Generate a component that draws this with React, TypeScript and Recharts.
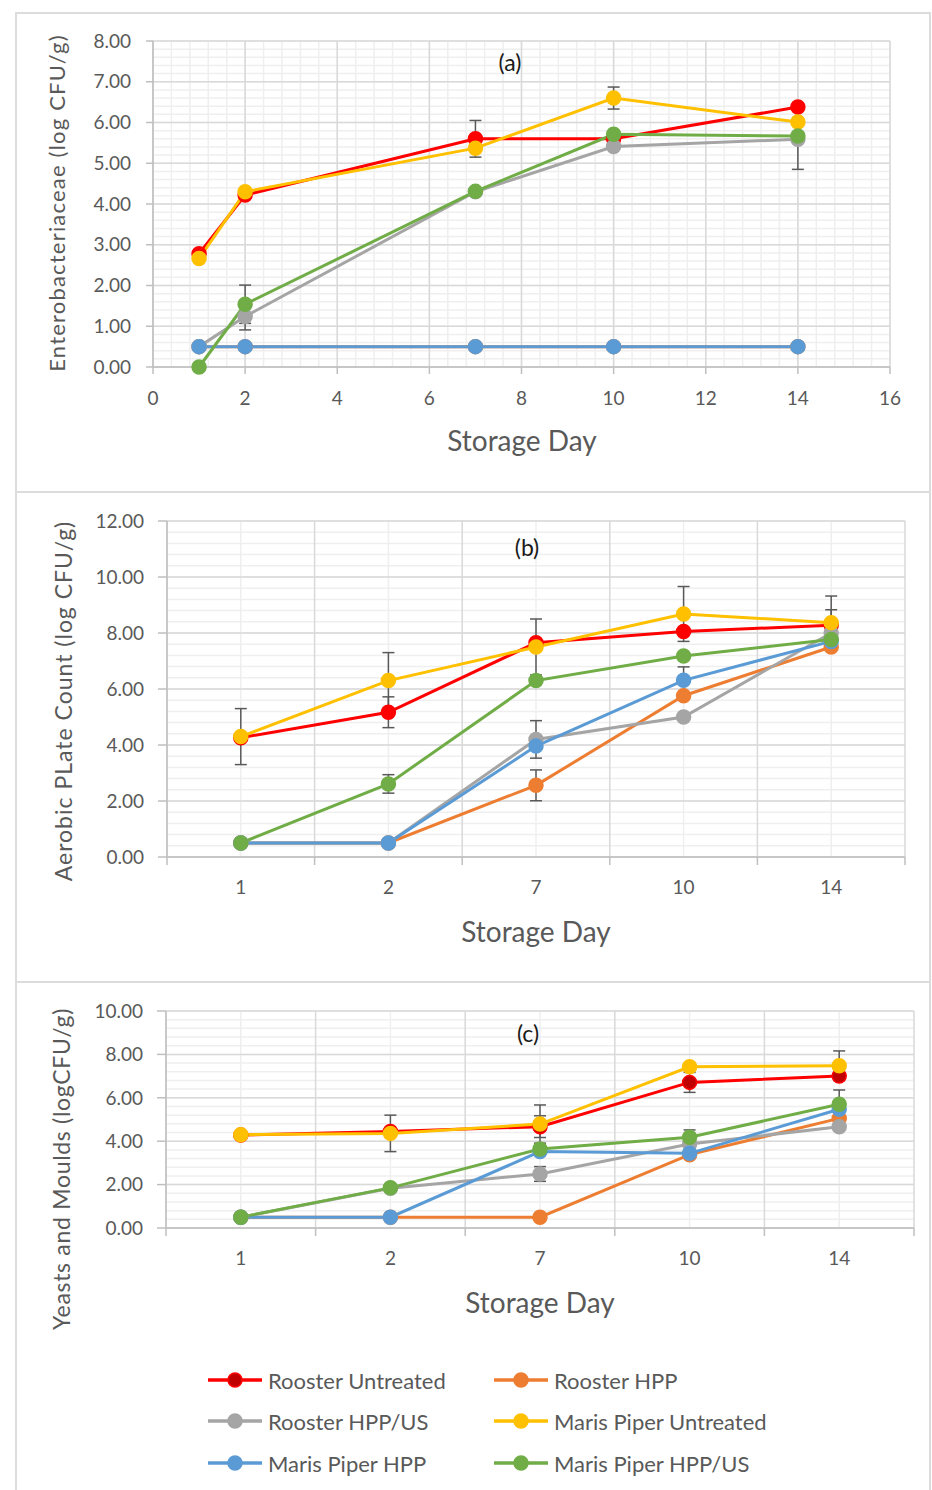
import { CartesianGrid, ErrorBar, Line, LineChart, XAxis, YAxis } from 'recharts';

const FONT = 'Lato, "Open Sans", sans-serif';
const TEXT = '#595959';
const AXIS = '#bfbfbf';
const MAJOR = '#d9d9d9';
const MINOR = '#efefef';
const ERR = '#595959';

const SERIES = [
  { key: 'ru', name: 'Rooster Untreated', color: '#FF0000' },
  { key: 'rh', name: 'Rooster HPP', color: '#ED7D31' },
  { key: 'rhus', name: 'Rooster HPP/US', color: '#A5A5A5' },
  { key: 'mpu', name: 'Maris Piper Untreated', color: '#FFC000' },
  { key: 'mph', name: 'Maris Piper HPP', color: '#5B9BD5' },
  { key: 'mphus', name: 'Maris Piper HPP/US', color: '#70AD47' },
];

// storage days (panel a uses them on a numeric axis, b and c as categories)
const DAYS = [1, 2, 7, 10, 14];
const DAY_LABELS = ['1', '2', '7', '10', '14'];

// (a) Enterobacteriaceae
const A_RU = [2.78, 4.22, 5.6, 5.6, 6.38];
const A_RH = [0.5, 0.5, 0.5, 0.5, 0.5];
const A_RHUS = [0.5, 1.24, 4.3, 5.41, 5.59];
const A_MPU = [2.66, 4.3, 5.37, 6.6, 6.01];
const A_MPH = [0.5, 0.5, 0.5, 0.5, 0.5];
const A_MPHUS = [0, 1.54, 4.31, 5.71, 5.67];
const A_RU_ERR = [0, 0, 0.45, 0, 0];
const A_RHUS_ERR = [0, 0.33, 0, 0, 0.74];
const A_MPU_ERR = [0, 0, 0, 0.27, 0];
const A_MPHUS_ERR = [0, 0.47, 0, 0, 0];

// (b) Aerobic plate count
const B_RU = [4.26, 5.17, 7.65, 8.05, 8.28];
const B_RH = [0.5, 0.5, 2.56, 5.76, 7.5];
const B_RHUS = [0.5, 0.5, 4.2, 5.0, 8.0];
const B_MPU = [4.3, 6.3, 7.5, 8.68, 8.37];
const B_MPH = [0.5, 0.5, 3.96, 6.31, 7.7];
const B_MPHUS = [0.5, 2.61, 6.3, 7.18, 7.77];
const B_RU_ERR = [0, 0.55, 0, 0, 0.55];
const B_RH_ERR = [0, 0, 0.55, 0, 0];
const B_RHUS_ERR = [0, 0, 0.67, 0, 0];
const B_MPU_ERR = [1.0, 1.0, 1.0, 0.98, 0.95];
const B_MPH_ERR = [0, 0, 0, 0.48, 0];
const B_MPHUS_ERR = [0, 0.33, 0, 0, 0];

// (c) Yeasts and moulds
const C_RU = [4.28, 4.45, 4.67, 6.71, 7.0];
const C_RH = [0.5, 0.5, 0.5, 3.38, 5.05];
const C_RHUS = [0.5, 1.83, 2.49, 3.87, 4.67];
const C_MPU = [4.3, 4.36, 4.79, 7.43, 7.48];
const C_MPH = [0.5, 0.5, 3.52, 3.44, 5.47];
const C_MPHUS = [0.5, 1.85, 3.64, 4.18, 5.7];
const C_RU_ERR = [0, 0, 0.5, 0.46, 0];
const C_RHUS_ERR = [0, 0, 0.34, 0, 0];
const C_MPU_ERR = [0, 0.84, 0.88, 0, 0.68];
const C_MPHUS_ERR = [0, 0, 0, 0.34, 0.66];

const A_Y_TICKS = [0, 1, 2, 3, 4, 5, 6, 7, 8];
const A_X_TICKS = [0, 2, 4, 6, 8, 10, 12, 14, 16];
const B_Y_TICKS = [0, 2, 4, 6, 8, 10, 12];
const C_Y_TICKS = [0, 2, 4, 6, 8, 10];

type Row = Record<string, number | undefined>;

function buildRows(
  xs: number[],
  values: Record<string, number[]>,
  errors: Record<string, number[]>,
): Row[] {
  return xs.map((x, i) => {
    const row: Row = { x };
    for (const s of SERIES) {
      row[s.key] = values[s.key][i];
      const e = errors[s.key]?.[i];
      row[s.key + 'Err'] = e ? e : undefined;
    }
    return row;
  });
}

// evenly spaced grid positions, used for the gridlines only
function steps(from: number, to: number, step: number): number[] {
  const out: number[] = [];
  for (let v = from; v <= to + 1e-9; v += step) out.push(Math.round(v * 100) / 100);
  return out;
}

const rowsA = buildRows(
  DAYS,
  { ru: A_RU, rh: A_RH, rhus: A_RHUS, mpu: A_MPU, mph: A_MPH, mphus: A_MPHUS },
  { ru: A_RU_ERR, rhus: A_RHUS_ERR, mpu: A_MPU_ERR, mphus: A_MPHUS_ERR },
);
const rowsB = buildRows(
  [1, 2, 3, 4, 5],
  { ru: B_RU, rh: B_RH, rhus: B_RHUS, mpu: B_MPU, mph: B_MPH, mphus: B_MPHUS },
  { ru: B_RU_ERR, rh: B_RH_ERR, rhus: B_RHUS_ERR, mpu: B_MPU_ERR, mph: B_MPH_ERR, mphus: B_MPHUS_ERR },
);
const rowsC = buildRows(
  [1, 2, 3, 4, 5],
  { ru: C_RU, rh: C_RH, rhus: C_RHUS, mpu: C_MPU, mph: C_MPH, mphus: C_MPHUS },
  { ru: C_RU_ERR, rhus: C_RHUS_ERR, mpu: C_MPU_ERR, mphus: C_MPHUS_ERR },
);

const tickStyle = { fill: TEXT, fontSize: 19, fontFamily: FONT };
const fmt2 = (v: number) => v.toFixed(2);

function renderLines(redFill: string) {
  return SERIES.map((s) => (
    <Line
      key={s.key}
      dataKey={s.key}
      name={s.name}
      type="linear"
      stroke={s.color}
      strokeWidth={3}
      dot={{ r: 7, fill: s.key === 'ru' ? redFill : s.color, stroke: s.color, strokeWidth: 1.5 }}
      activeDot={false}
      isAnimationActive={false}
    >
      <ErrorBar dataKey={s.key + 'Err'} width={6} stroke={ERR} strokeWidth={1.5} direction="y" />
    </Line>
  ));
}

// category axis drawn on a numeric scale: labels at the centres, tick marks between
function categoryTick(props: any) {
  const { x, y, payload } = props;
  const v = payload.value as number;
  if (!Number.isInteger(v)) {
    return <line x1={x} x2={x} y1={y} y2={y + 8} stroke={AXIS} strokeWidth={1.5} />;
  }
  return (
    <text x={x} y={y + 37} textAnchor="middle" fill={TEXT} fontSize={19} fontFamily={FONT}>
      {DAY_LABELS[v - 1]}
    </text>
  );
}

const CAT_TICKS = [0.5, 1, 1.5, 2, 2.5, 3, 3.5, 4, 4.5, 5, 5.5];

function CategoryPanel({
  rows,
  height,
  margin,
  yMax,
  yTicks,
  redFill,
}: {
  rows: Row[];
  height: number;
  margin: { top: number; right: number; bottom: number; left: number };
  yMax: number;
  yTicks: number[];
  redFill: string;
}) {
  return (
    <LineChart width={932} height={height} data={rows} margin={margin}>
      <CartesianGrid
        stroke={MINOR}
        strokeWidth={1.5}
        horizontalValues={steps(0, yMax, 0.4)}
        verticalValues={[1, 2, 3, 4, 5]}
      />
      <CartesianGrid
        stroke={MAJOR}
        strokeWidth={1.5}
        horizontalValues={yTicks}
        verticalValues={[0.5, 1.5, 2.5, 3.5, 4.5, 5.5]}
      />
      <XAxis
        dataKey="x"
        type="number"
        domain={[0.5, 5.5]}
        allowDataOverflow
        ticks={CAT_TICKS}
        interval={0}
        tick={categoryTick}
        tickLine={false}
        tickSize={0}
        tickMargin={0}
        axisLine={{ stroke: AXIS, strokeWidth: 1.5 }}
        height={30}
      />
      <YAxis
        type="number"
        domain={[0, yMax]}
        ticks={yTicks}
        interval={0}
        width={60}
        tick={tickStyle}
        tickFormatter={fmt2}
        tickSize={9}
        tickMargin={14}
        tickLine={{ stroke: AXIS, strokeWidth: 1.5 }}
        axisLine={{ stroke: AXIS, strokeWidth: 1.5 }}
      />
      {renderLines(redFill)}
    </LineChart>
  );
}

function LegendItem({ x, y, color, fill, label }: { x: number; y: number; color: string; fill: string; label: string }) {
  return (
    <g>
      <line x1={x} x2={x + 54} y1={y} y2={y} stroke={color} strokeWidth={3.5} />
      <circle cx={x + 27} cy={y} r={7} fill={fill} stroke={color} strokeWidth={1.5} />
      <text x={x + 60} y={y} dominantBaseline="central" fill={TEXT} fontSize={22} fontFamily={FONT}>
        {label}
      </text>
    </g>
  );
}

export default function App() {
  const box = (top: number, height: number): React.CSSProperties => ({
    position: 'absolute',
    left: 15,
    top,
    width: 916,
    height,
    border: '2px solid #dcdcdc',
    boxSizing: 'border-box',
  });

  return (
    <div
      style={{
        position: 'fixed',
        left: 0,
        top: 0,
        width: 932,
        height: 1490,
        overflow: 'hidden',
        background: '#ffffff',
        fontFamily: FONT,
      }}
    >
      <div style={box(12, 481)} />
      <div style={box(491, 492)} />
      <div style={box(981, 540)} />

      {/* (a) numeric day axis */}
      <div style={{ position: 'absolute', left: 0, top: 0 }}>
        <LineChart width={932} height={492} data={rowsA} margin={{ top: 41, right: 42, bottom: 95, left: 93 }}>
          <CartesianGrid
            stroke={MINOR}
            strokeWidth={1.5}
            horizontalValues={steps(0, 8, 0.2)}
            verticalValues={steps(0, 16, 0.4)}
          />
          <CartesianGrid stroke={MAJOR} strokeWidth={1.5} horizontalValues={A_Y_TICKS} verticalValues={A_X_TICKS} />
          <XAxis
            dataKey="x"
            type="number"
            domain={[0, 16]}
            ticks={A_X_TICKS}
            interval={0}
            tick={tickStyle}
            tickSize={7}
            tickMargin={18}
            tickLine={{ stroke: AXIS, strokeWidth: 1.5 }}
            axisLine={{ stroke: AXIS, strokeWidth: 1.5 }}
            height={30}
          />
          <YAxis
            type="number"
            domain={[0, 8]}
            ticks={A_Y_TICKS}
            interval={0}
            width={60}
            tick={tickStyle}
            tickFormatter={fmt2}
            tickSize={7}
            tickMargin={15}
            tickLine={{ stroke: AXIS, strokeWidth: 1.5 }}
            axisLine={{ stroke: AXIS, strokeWidth: 1.5 }}
          />
          {renderLines('#FF0000')}
        </LineChart>
      </div>

      <div style={{ position: 'absolute', left: 0, top: 492 }}>
        <CategoryPanel
          rows={rowsB}
          height={490}
          margin={{ top: 29, right: 27, bottom: 95, left: 107 }}
          yMax={12}
          yTicks={B_Y_TICKS}
          redFill="#FF0000"
        />
      </div>

      <div style={{ position: 'absolute', left: 0, top: 982 }}>
        <CategoryPanel
          rows={rowsC}
          height={508}
          margin={{ top: 29, right: 18, bottom: 232, left: 106 }}
          yMax={10}
          yTicks={C_Y_TICKS}
          redFill="#C00000"
        />
      </div>

      <svg
        width={932}
        height={1490}
        style={{ position: 'absolute', left: 0, top: 0, pointerEvents: 'none' }}
      >
        <g fontFamily={FONT}>
          <text x={510} y={62} textAnchor="middle" dominantBaseline="central" fontSize={23} fill="#1a1a1a">(a)</text>
          <text x={527} y={547} textAnchor="middle" dominantBaseline="central" fontSize={23} fill="#1a1a1a">(b)</text>
          <text x={528} y={1033} textAnchor="middle" dominantBaseline="central" fontSize={23} fill="#1a1a1a">(c)</text>

          <text x={522} y={440} textAnchor="middle" dominantBaseline="central" fontSize={28} fill={TEXT}>Storage Day</text>
          <text x={536} y={931} textAnchor="middle" dominantBaseline="central" fontSize={28} fill={TEXT}>Storage Day</text>
          <text x={540} y={1302} textAnchor="middle" dominantBaseline="central" fontSize={28} fill={TEXT}>Storage Day</text>

          <text
            x={56}
            y={203}
            transform="rotate(-90 56 203)"
            textAnchor="middle"
            dominantBaseline="central"
            fontSize={22}
            letterSpacing={1.2}
            fill={TEXT}
          >
            Enterobacteriaceae (log CFU/g)
          </text>
          <text
            x={63}
            y={701}
            transform="rotate(-90 63 701)"
            textAnchor="middle"
            dominantBaseline="central"
            fontSize={23}
            letterSpacing={1}
            fill={TEXT}
          >
            Aerobic PLate Count (log CFU/g)
          </text>
          <text
            x={61}
            y={1169}
            transform="rotate(-90 61 1169)"
            textAnchor="middle"
            dominantBaseline="central"
            fontSize={23}
            letterSpacing={0.7}
            fill={TEXT}
          >
            Yeasts and Moulds (logCFU/g)
          </text>
        </g>

        <LegendItem x={208} y={1380} color="#FF0000" fill="#C00000" label="Rooster Untreated" />
        <LegendItem x={494} y={1380} color="#ED7D31" fill="#ED7D31" label="Rooster HPP" />
        <LegendItem x={208} y={1421} color="#A5A5A5" fill="#A5A5A5" label="Rooster HPP/US" />
        <LegendItem x={494} y={1421} color="#FFC000" fill="#FFC000" label="Maris Piper Untreated" />
        <LegendItem x={208} y={1463} color="#5B9BD5" fill="#5B9BD5" label="Maris Piper HPP" />
        <LegendItem x={494} y={1463} color="#70AD47" fill="#70AD47" label="Maris Piper HPP/US" />
      </svg>
    </div>
  );
}
